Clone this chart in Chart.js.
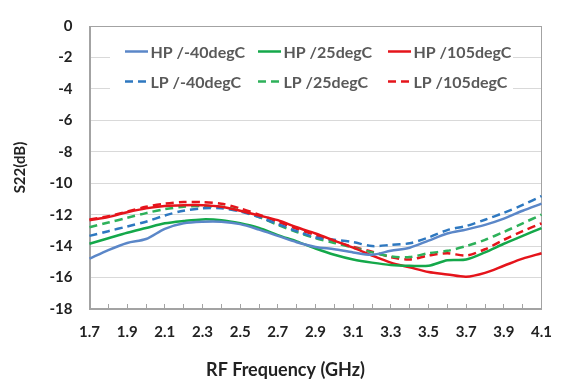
<!DOCTYPE html>
<html>
<head>
<meta charset="utf-8">
<script src="https://cdn.jsdelivr.net/npm/chart.js@4/dist/chart.umd.min.js"></script>
<style>
  html, body { margin: 0; padding: 0; background: #ffffff; }
  canvas { display: block; }
</style>
</head>
<body>
<canvas id="s22" width="571" height="383"></canvas>
<script>
// RF frequency points (GHz), one every 0.1 GHz
const freqLabels = ['1.7','1.8','1.9','2.0','2.1','2.2','2.3','2.4','2.5','2.6','2.7','2.8','2.9',
                    '3.0','3.1','3.2','3.3','3.4','3.5','3.6','3.7','3.8','3.9','4.0','4.1'];

// S22 (dB), high-power mode
const hpMinus40 = [-14.8,-14.25,-13.8,-13.55,-12.9,-12.55,-12.45,-12.45,-12.6,-12.95,-13.35,-13.75,-14.05,
                   -14.2,-14.4,-14.55,-14.3,-14.1,-13.65,-13.2,-12.95,-12.65,-12.25,-11.75,-11.3];
const hp25      = [-13.85,-13.5,-13.15,-12.85,-12.55,-12.4,-12.3,-12.35,-12.55,-12.85,-13.3,-13.7,-14.15,
                   -14.55,-14.85,-15.05,-15.2,-15.25,-15.25,-14.9,-14.85,-14.4,-13.85,-13.35,-12.85];
const hp105     = [-12.35,-12.15,-11.85,-11.6,-11.45,-11.4,-11.4,-11.5,-11.75,-12.05,-12.35,-12.8,-13.2,
                   -13.65,-14.1,-14.6,-15.05,-15.35,-15.65,-15.8,-15.95,-15.7,-15.25,-14.8,-14.45];

// S22 (dB), low-power mode
const lpMinus40 = [-13.35,-13.05,-12.75,-12.45,-12.05,-11.75,-11.6,-11.6,-11.8,-12.15,-12.6,-13.05,-13.45,
                   -13.6,-13.75,-14.0,-13.92,-13.82,-13.45,-12.98,-12.72,-12.32,-11.88,-11.38,-10.82];
const lp25      = [-12.8,-12.5,-12.2,-11.9,-11.65,-11.5,-11.45,-11.5,-11.75,-12.15,-12.65,-13.1,-13.5,
                   -13.8,-14.1,-14.4,-14.65,-14.7,-14.45,-14.3,-14.0,-13.6,-13.1,-12.55,-12.0];
const lp105     = [-12.3,-12.1,-11.8,-11.5,-11.3,-11.2,-11.2,-11.3,-11.6,-12.0,-12.45,-12.9,-13.3,
                   -13.7,-14.05,-14.35,-14.7,-14.85,-14.6,-14.45,-14.6,-14.2,-13.6,-13.05,-12.55];

const seriesNames = ['HP /-40degC','HP /25degC','HP /105degC','LP /-40degC','LP /25degC','LP /105degC'];

const BOLD = "'Lato', 'Open Sans', sans-serif";

function line(label, data, color, dashed) {
  return {
    label, data,
    borderColor: color,
    backgroundColor: color,
    borderWidth: 2.5,
    borderDash: dashed ? [8, 5] : [],
    pointRadius: 0,
    pointHoverRadius: 0,
    tension: 0.3,
    fill: false
  };
}

// Gray frame around the plot area
const plotFrame = {
  id: 'plotFrame',
  beforeDatasetsDraw(chart) {
    const { ctx, chartArea: a } = chart;
    ctx.save();
    ctx.strokeStyle = '#a3a3a3';
    ctx.lineWidth = 1;
    ctx.strokeRect(Math.round(a.left) + 0.5, Math.round(a.top) + 0.5,
                   Math.round(a.right - a.left) - 1, Math.round(a.bottom - a.top) - 1);
    ctx.restore();
  }
};

// Three-column legend laid over the upper part of the plot
const legendBlock = {
  id: 'legendBlock',
  afterDraw(chart) {
    const { ctx } = chart;
    const cols = [125, 258, 388];
    const rows = [51.5, 81.5];
    ctx.save();
    ctx.fillStyle = '#ffffff';
    ctx.fillRect(110, 33, 403, 67);
    ctx.font = "bold 16px " + BOLD;
    ctx.textBaseline = 'middle';
    ctx.textAlign = 'left';
    chart.data.datasets.forEach((ds, i) => {
      const x = cols[i % 3];
      const y = rows[Math.floor(i / 3)];
      ctx.strokeStyle = ds.borderColor;
      ctx.lineWidth = ds.borderWidth;
      ctx.setLineDash(ds.borderDash);
      ctx.beginPath();
      ctx.moveTo(x, y);
      ctx.lineTo(x + 23, y);
      ctx.stroke();
      ctx.setLineDash([]);
      ctx.fillStyle = '#595959';
      ctx.fillText(ds.label, x + 25.5, y + 1);
    });
    ctx.restore();
  }
};

new Chart(document.getElementById('s22'), {
  type: 'line',
  data: {
    labels: freqLabels,
    datasets: [
      line(seriesNames[0], hpMinus40, '#5b87c8', false),
      line(seriesNames[1], hp25,      '#14a84a', false),
      line(seriesNames[2], hp105,     '#e5141b', false),
      line(seriesNames[3], lpMinus40, '#2e78c0', true),
      line(seriesNames[4], lp25,      '#2eb15a', true),
      line(seriesNames[5], lp105,     '#e5141b', true)
    ]
  },
  options: {
    responsive: false,
    animation: false,
    devicePixelRatio: 1,
    layout: { padding: { top: 14, right: 0, bottom: 0, left: 0 } },
    plugins: {
      legend: { display: false },
      tooltip: { enabled: false },
      title: {
        display: true,
        position: 'bottom',
        text: 'RF Frequency (GHz)',
        color: '#222222',
        font: { family: BOLD, size: 18, weight: 'bold' },
        padding: { top: 0, bottom: 2 }
      }
    },
    scales: {
      x: {
        type: 'category',
        offset: false,
        grid: { drawOnChartArea: false, drawTicks: true, tickLength: -5, color: '#a3a3a3', offset: false },
        border: { display: true, color: '#a3a3a3', width: 1 },
        ticks: {
          autoSkip: false,
          maxRotation: 0,
          padding: 19,
          color: '#222222',
          font: { family: BOLD, size: 15, weight: 'bold' },
          callback: function (value, index) {
            return index % 2 === 0 ? this.getLabelForValue(value) : '';
          }
        },
        afterFit: (s) => { s.height = 50.4; }
      },
      y: {
        min: -18,
        max: 0,
        grid: { color: '#d9d9d9', drawTicks: false },
        border: { display: true, color: '#a3a3a3', width: 1 },
        ticks: {
          stepSize: 2,
          padding: 17,
          color: '#222222',
          font: { family: BOLD, size: 15, weight: 'bold' }
        },
        title: {
          display: true,
          text: 'S22(dB)',
          color: '#222222',
          font: { family: BOLD, size: 15, weight: 'bold' },
          padding: { top: 11.5, bottom: 0 }
        },
        afterFit: (s) => { s.width = 89.5; }
      },
      yRight: {
        position: 'right',
        display: true,
        grid: { display: false, drawTicks: false },
        border: { display: false },
        ticks: { display: false },
        afterFit: (s) => { s.width = 23; }
      }
    }
  },
  plugins: [plotFrame, legendBlock]
});
</script>
</body>
</html>
